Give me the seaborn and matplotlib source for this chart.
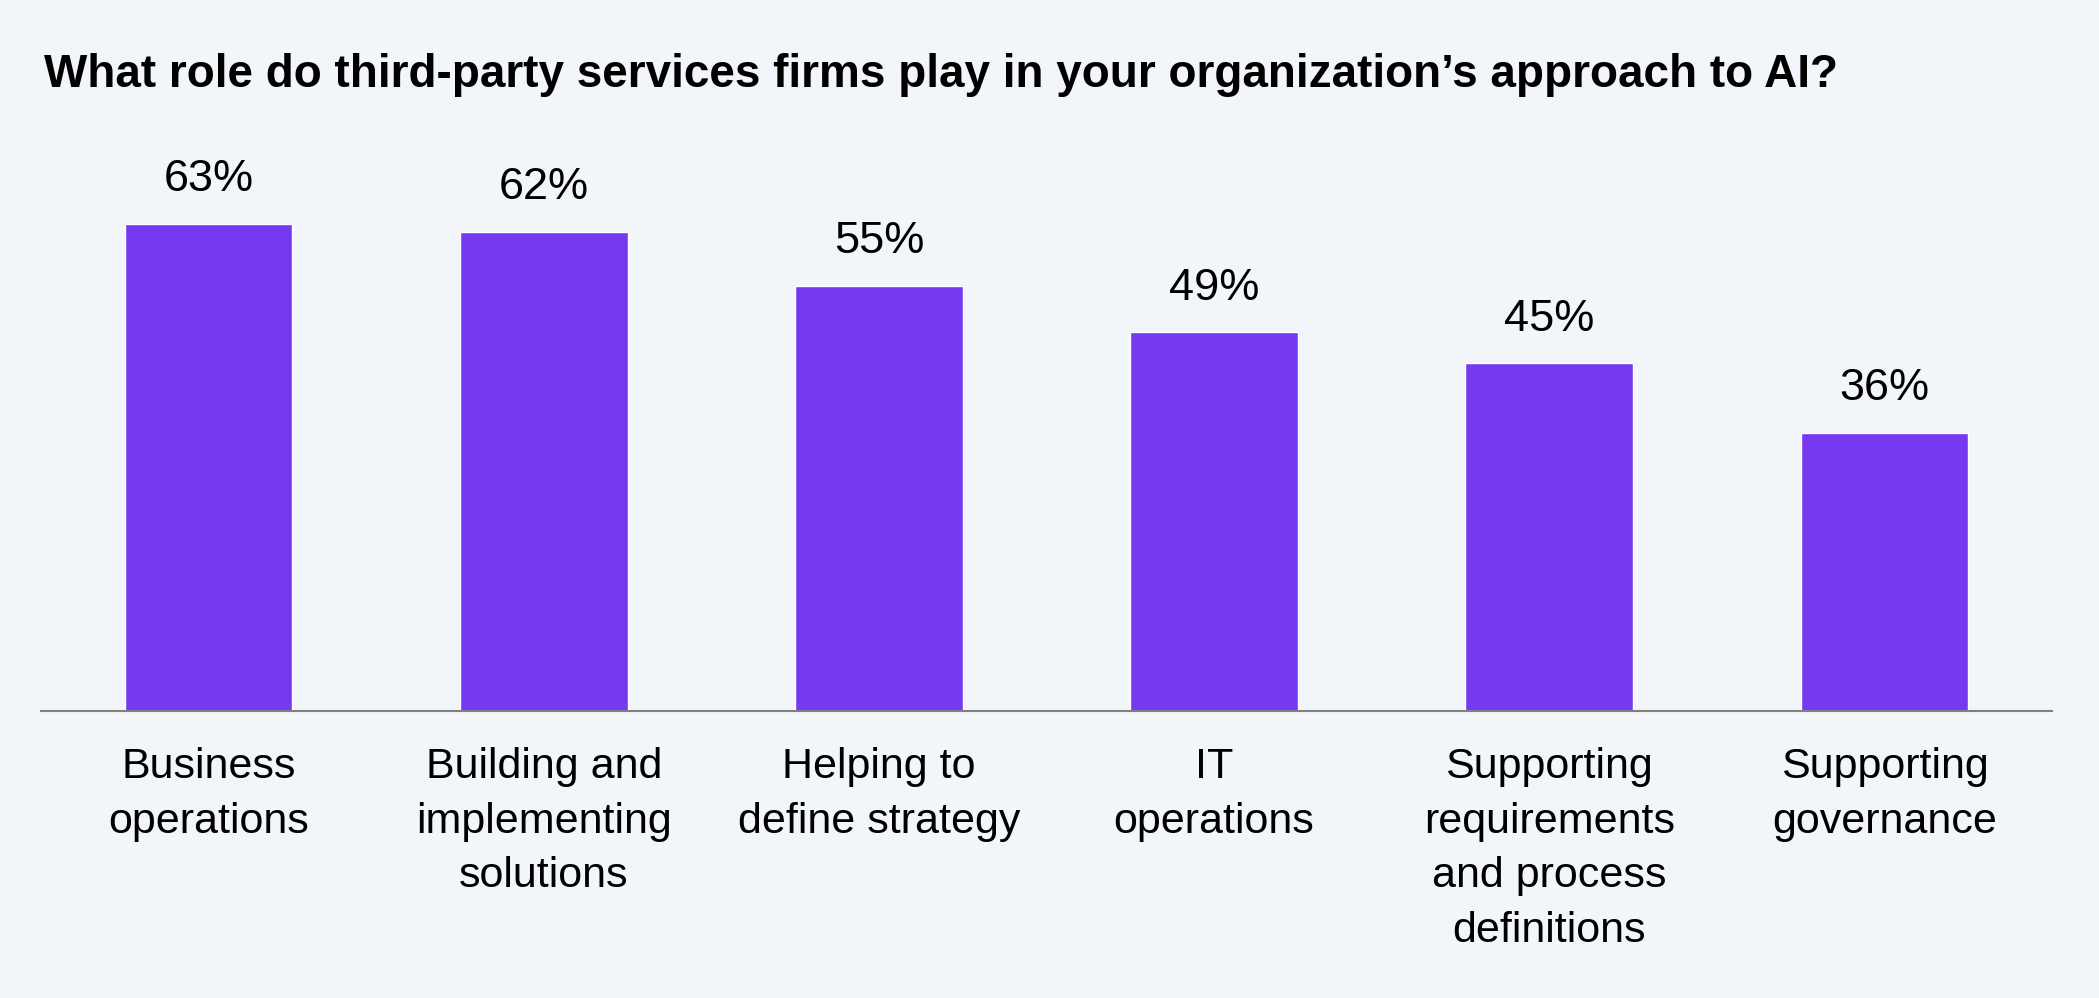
import matplotlib
matplotlib.use("Agg")
import matplotlib.pyplot as plt
import seaborn as sns

# chart data
categories = [
    "Business\noperations",
    "Building and\nimplementing\nsolutions",
    "Helping to\ndefine strategy",
    "IT\noperations",
    "Supporting\nrequirements\nand process\ndefinitions",
    "Supporting\ngovernance",
]
values = [63, 62, 55, 49, 45, 36]
value_labels = ["63%", "62%", "55%", "49%", "45%", "36%"]
title = "What role do third-party services firms play in your organization\u2019s approach to AI?"

BG = "#F2F5F9"
BAR = "#7639F0"

sns.set_theme(style="white")
plt.rcParams["font.family"] = ["Liberation Sans", "DejaVu Sans"]

fig = plt.figure(figsize=(20.99, 9.98), dpi=100, facecolor=BG)
ax = fig.add_axes([41 / 2099, 1 - 711 / 998, 2011 / 2099, 541 / 998])
ax.set_facecolor(BG)

sns.barplot(x=categories, y=values, color=BAR, saturation=1, width=0.5,
            edgecolor="white", linewidth=1, ax=ax)

for i, (v, lab) in enumerate(zip(values, value_labels)):
    ax.annotate(lab, (i, v), xytext=(0, 17), textcoords="offset points",
                ha="center", va="bottom", fontsize=32.5, color="black")

ax.set_xlim(-0.5, 5.5)
ax.set_ylim(0, 70)
ax.set_yticks([])
ax.set_xlabel("")
ax.set_ylabel("")
for s in ["top", "right", "left"]:
    ax.spines[s].set_visible(False)
ax.spines["bottom"].set_color("#808080")
ax.spines["bottom"].set_linewidth(1.5)
ax.tick_params(axis="x", length=0, pad=26, labelsize=31, colors="black")
for t in ax.get_xticklabels():
    t.set_linespacing(1.47)
    t.set_verticalalignment("top")

fig.text(44 / 2099, 1 - 87 / 998, title, fontsize=33, fontweight="bold",
         color="black", ha="left", va="baseline")

fig.savefig("out.png", dpi=100, facecolor=BG)
